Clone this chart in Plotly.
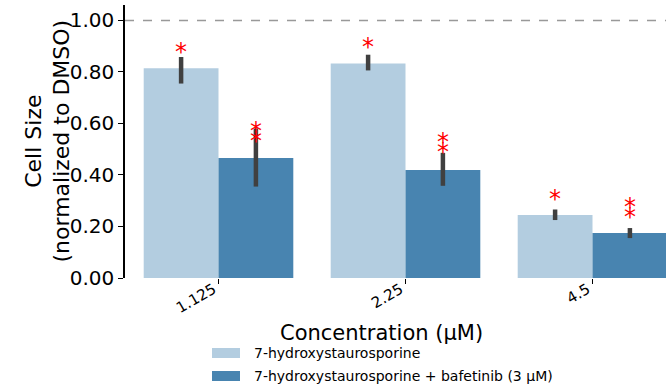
import plotly.graph_objects as go

# ---- data ----
categories = ["1.125", "2.25", "4.5"]
series_names = ["7-hydroxystaurosporine", "7-hydroxystaurosporine + bafetinib (3 µM)"]
light_vals = [0.814, 0.833, 0.245]
light_err_hi = [0.858, 0.867, 0.266]
light_err_lo = [0.755, 0.806, 0.225]
dark_vals = [0.466, 0.419, 0.175]
dark_err_hi = [0.581, 0.486, 0.194]
dark_err_lo = [0.355, 0.358, 0.155]
light_sig = [1, 1, 1]
dark_sig = [2, 2, 2]
light_star_y = [0.89, 0.91, 0.32]
dark_star_y = [0.545, 0.50, 0.25]
yticks = [0.0, 0.2, 0.4, 0.6, 0.8, 1.0]

colors = ["#b3cde0", "#4884b0"]
FONT = "DejaVu Sans"

W, H = 666, 387
ML, MR, MT, MB = 125, 0, 5, 109
PW = W - ML - MR
PH = H - MT - MB

def px2paper(px, py):
    return (px - ML) / PW, (H - MB - py) / PH

xs = list(range(len(categories)))

fig = go.Figure()
fig.add_trace(go.Bar(
    x=xs, y=light_vals, name=series_names[0], marker_color=colors[0],
    marker_line_width=0,
    error_y=dict(type="data", symmetric=False,
                 array=[h - v for h, v in zip(light_err_hi, light_vals)],
                 arrayminus=[v - l for l, v in zip(light_err_lo, light_vals)],
                 color="#404040", thickness=4.5, width=0),
    showlegend=False))
fig.add_trace(go.Bar(
    x=xs, y=dark_vals, name=series_names[1], marker_color=colors[1],
    marker_line_width=0,
    error_y=dict(type="data", symmetric=False,
                 array=[h - v for h, v in zip(dark_err_hi, dark_vals)],
                 arrayminus=[v - l for l, v in zip(dark_err_lo, dark_vals)],
                 color="#404040", thickness=4.5, width=0),
    showlegend=False))

annotations = []
star_step = 0.039
for offs, sig, ys in ((-0.2, light_sig, light_star_y), (0.2, dark_sig, dark_star_y)):
    for i, (n, y0) in enumerate(zip(sig, ys)):
        for k in range(n):
            annotations.append(dict(
                x=i + offs, y=y0 + k * star_step, xref="x", yref="y",
                text="*", showarrow=False, yanchor="middle", xanchor="center",
                yshift=-3, font=dict(family=FONT, size=24, color="red")))

# x-axis title
tx, ty = px2paper(381, 333)
annotations.append(dict(x=tx, y=ty, xref="paper", yref="paper", text="Concentration (µM)",
                        showarrow=False, xanchor="center", yanchor="middle",
                        font=dict(family=FONT, size=21, color="black")))
# y-axis title
yx, _ = px2paper(47, 0)
annotations.append(dict(x=yx, y=0.5, xref="paper", yref="paper",
                        text="Cell Size<br>(normalized to DMSO)", textangle=-90,
                        showarrow=False, xanchor="center", yanchor="middle",
                        font=dict(family=FONT, size=22, color="black")))

shapes = [dict(type="line", xref="paper", yref="y", x0=0, x1=1, y0=1.0, y1=1.0,
               line=dict(color="#999999", width=1.6, dash="dash"), layer="below")]

# manual legend
rows_y = [353, 376]
for name, col, py in zip(series_names, colors, rows_y):
    x0, y0 = px2paper(212, py - 5)
    x1, y1 = px2paper(240, py + 5)
    shapes.append(dict(type="rect", xref="paper", yref="paper", x0=x0, x1=x1, y0=y1, y1=y0,
                       fillcolor=col, line=dict(width=0)))
    lx, ly = px2paper(252, py)
    annotations.append(dict(x=lx, y=ly, xref="paper", yref="paper", text=name, showarrow=False,
                            xanchor="left", yanchor="middle",
                            font=dict(family=FONT, size=14, color="black")))

fig.update_layout(
    width=W, height=H, margin=dict(l=ML, r=MR, t=MT, b=MB, autoexpand=False),
    plot_bgcolor="white", paper_bgcolor="white",
    barmode="group", bargap=0.2, bargroupgap=0,
    font=dict(family=FONT, color="black"),
    annotations=annotations, shapes=shapes,
    xaxis=dict(range=[-0.5, -0.5 + PW / 187.0], tickvals=xs, ticktext=categories,
               tickangle=-30, ticks="outside", ticklen=5, tickwidth=1.3, tickcolor="black",
               ticklabelshift=-5, ticklabelstandoff=-9,
               showline=False, showgrid=False, zeroline=False,
               tickfont=dict(family=FONT, size=15, color="black")),
    yaxis=dict(range=[0, 1.06], tickvals=yticks, tickformat=".2f",
               ticks="outside", ticklen=5, tickwidth=1.3, tickcolor="black",
               showline=True, linecolor="black", linewidth=1.5,
               showgrid=False, zeroline=False,
               tickfont=dict(family=FONT, size=20, color="black")),
)

fig.write_html("out.html", config={"displayModeBar": False},
               post_script="document.body.style.margin='0';document.body.style.overflow='hidden';")
